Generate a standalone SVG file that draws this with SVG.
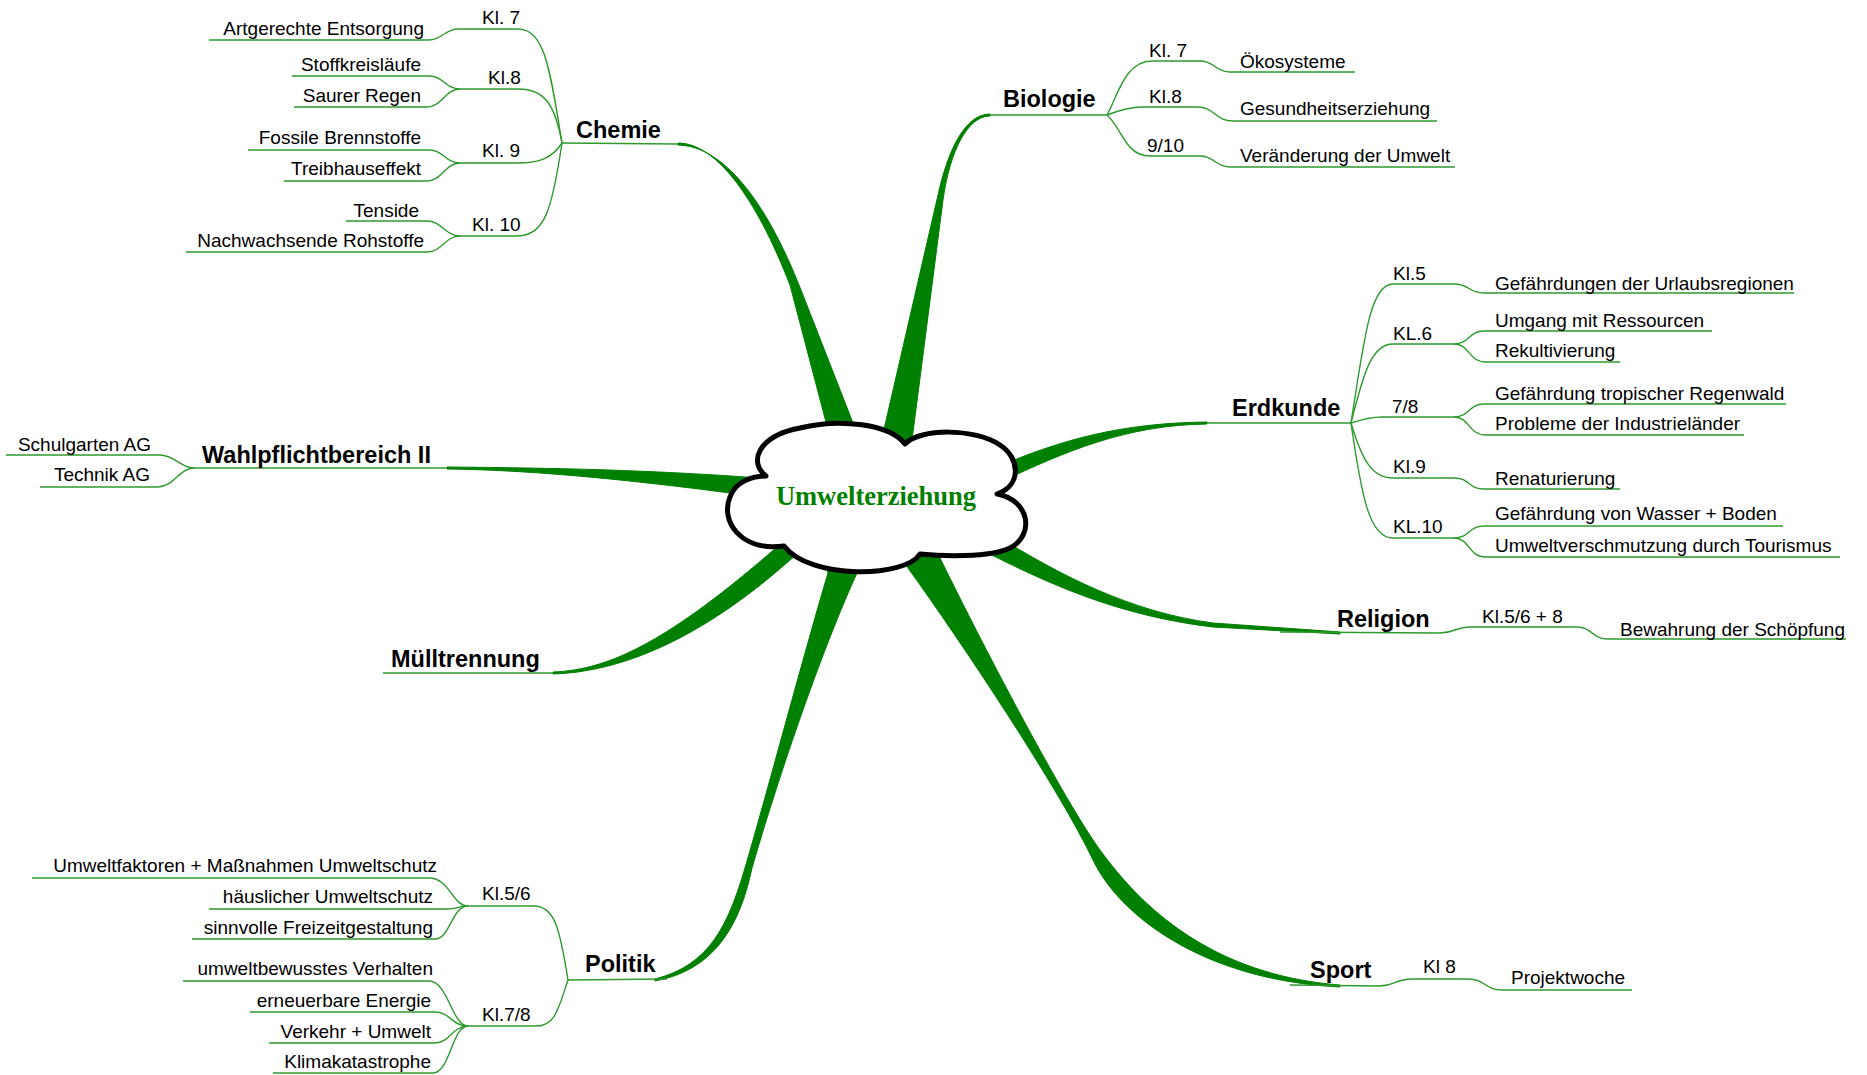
<svg xmlns="http://www.w3.org/2000/svg" width="1867" height="1075" viewBox="0 0 1867 1075">
<style>
.t{font-family:"Liberation Sans",Arial,sans-serif;font-size:19px;fill:#000}
.h{font-family:"Liberation Sans",Arial,sans-serif;font-size:23.5px;font-weight:bold;fill:#000}
.e{text-anchor:end}
.ln{fill:none;stroke:#2e9a2e;stroke-width:1.4}
.br{fill:#008000;stroke:#008000;stroke-width:1;stroke-linejoin:round}
.cl{fill:#fff;stroke:#000;stroke-width:5;stroke-linejoin:round}
.ct{font-family:"Liberation Serif","Times New Roman",serif;font-size:26.5px;font-weight:bold;fill:#008000;text-anchor:middle}
</style>
<rect width="1867" height="1075" fill="#fff"/>
<g id="connectors">
<!-- thick main branches -->
<path class="br" d="M678,143 C715,143 755,195 790,285 L832,445 L862,445 L853,423 L801,290 C765,198 722,146 678,145 Z"/>
<path class="br" d="M990,114 C965,114 948,150 938,195 L885,425 L880,452 L912,452 L912,440 L943,200 C950,150 968,116 990,116 Z"/>
<path class="br" d="M1207,422 C1120,423 1060,440 995,468 L1000,482 C1065,452 1125,425 1207,424 Z"/>
<path class="br" d="M995,535 C1060,575 1130,612 1213,623 L1340,632 L1340,634 L1213,627 C1120,616 1050,585 978,548 Z"/>
<path class="br" d="M900,548 L908,568 C960,640 1060,790 1093,860 C1118,913 1200,980 1340,987 L1340,985 C1210,975 1140,905 1100,850 C1070,809 1000,680 940,558 L945,545 Z"/>
<path class="br" d="M822,555 L828,573 C805,650 765,800 745,868 C728,925 710,965 655,979 L655,981 C715,970 740,925 752,868 C770,805 815,665 857,573 L865,555 Z"/>
<path class="br" d="M553,672 C610,670 670,640 777,547 L792,530 L806,548 L790,560 C700,640 620,672 553,674 Z"/>
<path class="br" d="M447,467 C560,468 650,470 760,478 L760,497 C650,482 540,470 447,469 Z"/>
<!-- Chemie -->
<path class="ln" d="M562,143 L678,144"/>
<path class="ln" d="M562,143 C550,70 545,29 518,29 L458,29 C445,29 442,40 429,40 L209,40"/>
<path class="ln" d="M562,143 C555,105 545,89 518,89 L460,89 C445,89 444,76 429,76 L292,76"/>
<path class="ln" d="M460,89 C445,89 442,107 427,107 L294,107"/>
<path class="ln" d="M562,143 C552,158 540,163 518,163 L460,163 C445,163 444,150 429,150 L248,150"/>
<path class="ln" d="M460,163 C445,163 442,181 427,181 L284,181"/>
<path class="ln" d="M562,143 C552,210 545,236 516,236 L460,236 C445,236 442,221 427,221 L346,221"/>
<path class="ln" d="M460,236 C445,236 442,252 427,252 L186,252"/>
<!-- Biologie -->
<path class="ln" d="M990,115 L1107,115"/>
<path class="ln" d="M1107,115 C1118,95 1125,61 1152,61 L1200,61 C1215,61 1215,72 1230,72 L1355,72"/>
<path class="ln" d="M1107,115 C1120,110 1130,107 1142,107 L1197,107 C1215,107 1215,121 1233,121 L1437,121"/>
<path class="ln" d="M1107,115 C1122,128 1125,156 1150,156 L1200,156 C1215,156 1215,167 1230,167 L1455,167"/>
<!-- Erdkunde -->
<path class="ln" d="M1207,423 L1351,423"/>
<path class="ln" d="M1351,423 C1364,340 1370,284 1393,284 L1454,284 C1470,284 1468,293 1484,293 L1794,293"/>
<path class="ln" d="M1351,423 C1362,380 1370,344 1393,344 L1454,344 C1470,344 1468,331 1484,331 L1712,331"/>
<path class="ln" d="M1454,344 C1470,344 1468,362 1486,362 L1620,362"/>
<path class="ln" d="M1351,423 C1360,420 1370,417 1382,417 L1454,417 C1470,417 1468,404 1484,404 L1786,404"/>
<path class="ln" d="M1454,417 C1470,417 1468,435 1486,435 L1744,435"/>
<path class="ln" d="M1351,423 C1362,460 1372,478 1393,478 L1454,478 C1470,478 1468,489 1484,489 L1620,489"/>
<path class="ln" d="M1351,423 C1362,500 1370,538 1393,538 L1454,538 C1470,538 1468,526 1484,526 L1783,526"/>
<path class="ln" d="M1454,538 C1470,538 1468,557 1486,557 L1840,557"/>
<!-- Religion -->
<path class="ln" d="M1280,632 L1440,633 C1455,633 1455,627 1470,627 L1577,627 C1592,627 1592,639 1608,639 L1846,639"/>
<!-- Sport -->
<path class="ln" d="M1290,985 L1380,986 C1395,986 1395,979 1412,979 L1468,979 C1485,979 1485,990 1502,990 L1632,990"/>
<!-- Politik -->
<path class="ln" d="M568,980 L667,979"/>
<path class="ln" d="M568,980 C560,930 555,906 534,906 L468,906 C452,906 450,878 429,878 L32,878"/>
<path class="ln" d="M468,906 C458,906 458,909 447,909 L209,909"/>
<path class="ln" d="M468,906 C452,906 450,939 435,939 L192,939"/>
<path class="ln" d="M568,980 C558,1010 555,1026 536,1026 L468,1026 C452,1026 448,981 429,981 L183,981"/>
<path class="ln" d="M468,1026 C452,1026 450,1012 435,1012 L250,1012"/>
<path class="ln" d="M468,1026 C452,1026 450,1043 435,1043 L269,1043"/>
<path class="ln" d="M468,1026 C452,1026 450,1073 433,1073 L273,1073"/>
<!-- Wahlpflicht -->
<path class="ln" d="M194,468 L447,468"/>
<path class="ln" d="M194,468 C180,468 175,455 160,455 L6,455"/>
<path class="ln" d="M194,468 C180,468 173,487 158,487 L40,487"/>
<!-- Muelltrennung -->
<path class="ln" d="M383,673 L553,673"/>
</g>
<g id="center">
<path class="cl" d="M766,476 C748,462 758,436 800,428 C840,418 890,424 905,444 C920,428 975,428 1000,445 C1020,458 1022,485 997,494 C1030,500 1035,535 1010,548 C990,558 940,556 920,554 C905,578 810,580 784,546 C740,552 720,520 730,497 C735,482 752,476 766,476 Z"/>
<text class="ct" x="876" y="505">Umwelterziehung</text>
</g>
<g id="chemie">
<text class="h" x="576" y="138">Chemie</text>
<text class="t" x="482" y="24">Kl. 7</text>
<text class="t" x="488" y="84">Kl.8</text>
<text class="t" x="482" y="157">Kl. 9</text>
<text class="t" x="472" y="231">Kl. 10</text>
<text class="t e" x="424" y="35">Artgerechte Entsorgung</text>
<text class="t e" x="421" y="71">Stoffkreisläufe</text>
<text class="t e" x="421" y="102">Saurer Regen</text>
<text class="t e" x="421" y="144">Fossile Brennstoffe</text>
<text class="t e" x="421" y="175">Treibhauseffekt</text>
<text class="t e" x="419" y="217">Tenside</text>
<text class="t e" x="424" y="247">Nachwachsende Rohstoffe</text>
</g>
<g id="biologie">
<text class="h" x="1003" y="107">Biologie</text>
<text class="t" x="1149" y="57">Kl. 7</text>
<text class="t" x="1149" y="103">Kl.8</text>
<text class="t" x="1147" y="152">9/10</text>
<text class="t" x="1240" y="68">Ökosysteme</text>
<text class="t" x="1240" y="115">Gesundheitserziehung</text>
<text class="t" x="1240" y="162">Veränderung der Umwelt</text>
</g>
<g id="erdkunde">
<text class="h" x="1232" y="416">Erdkunde</text>
<text class="t" x="1393" y="280">Kl.5</text>
<text class="t" x="1393" y="340">KL.6</text>
<text class="t" x="1392" y="413">7/8</text>
<text class="t" x="1393" y="473">Kl.9</text>
<text class="t" x="1393" y="533">KL.10</text>
<text class="t" x="1495" y="290">Gefährdungen der Urlaubsregionen</text>
<text class="t" x="1495" y="327">Umgang mit Ressourcen</text>
<text class="t" x="1495" y="357">Rekultivierung</text>
<text class="t" x="1495" y="400">Gefährdung tropischer Regenwald</text>
<text class="t" x="1495" y="430">Probleme der Industrieländer</text>
<text class="t" x="1495" y="485">Renaturierung</text>
<text class="t" x="1495" y="520">Gefährdung von Wasser + Boden</text>
<text class="t" x="1495" y="552">Umweltverschmutzung durch Tourismus</text>
</g>
<g id="religion">
<text class="h" x="1337" y="627">Religion</text>
<text class="t" x="1482" y="623">Kl.5/6 + 8</text>
<text class="t" x="1620" y="636">Bewahrung der Schöpfung</text>
</g>
<g id="sport">
<text class="h" x="1310" y="978">Sport</text>
<text class="t" x="1423" y="973">Kl 8</text>
<text class="t" x="1511" y="984">Projektwoche</text>
</g>
<g id="politik">
<text class="h" x="585" y="972">Politik</text>
<text class="t" x="482" y="900">Kl.5/6</text>
<text class="t" x="482" y="1021">Kl.7/8</text>
<text class="t e" x="437" y="872">Umweltfaktoren + Maßnahmen Umweltschutz</text>
<text class="t e" x="433" y="903">häuslicher Umweltschutz</text>
<text class="t e" x="433" y="934">sinnvolle Freizeitgestaltung</text>
<text class="t e" x="433" y="975">umweltbewusstes Verhalten</text>
<text class="t e" x="431" y="1007">erneuerbare Energie</text>
<text class="t e" x="431" y="1038">Verkehr + Umwelt</text>
<text class="t e" x="431" y="1068">Klimakatastrophe</text>
</g>
<g id="wahlpflicht">
<text class="h" x="202" y="463">Wahlpflichtbereich II</text>
<text class="t e" x="151" y="451">Schulgarten AG</text>
<text class="t e" x="150" y="481">Technik AG</text>
</g>
<g id="muelltrennung">
<text class="h" x="391" y="667">Mülltrennung</text>
</g>
</svg>
